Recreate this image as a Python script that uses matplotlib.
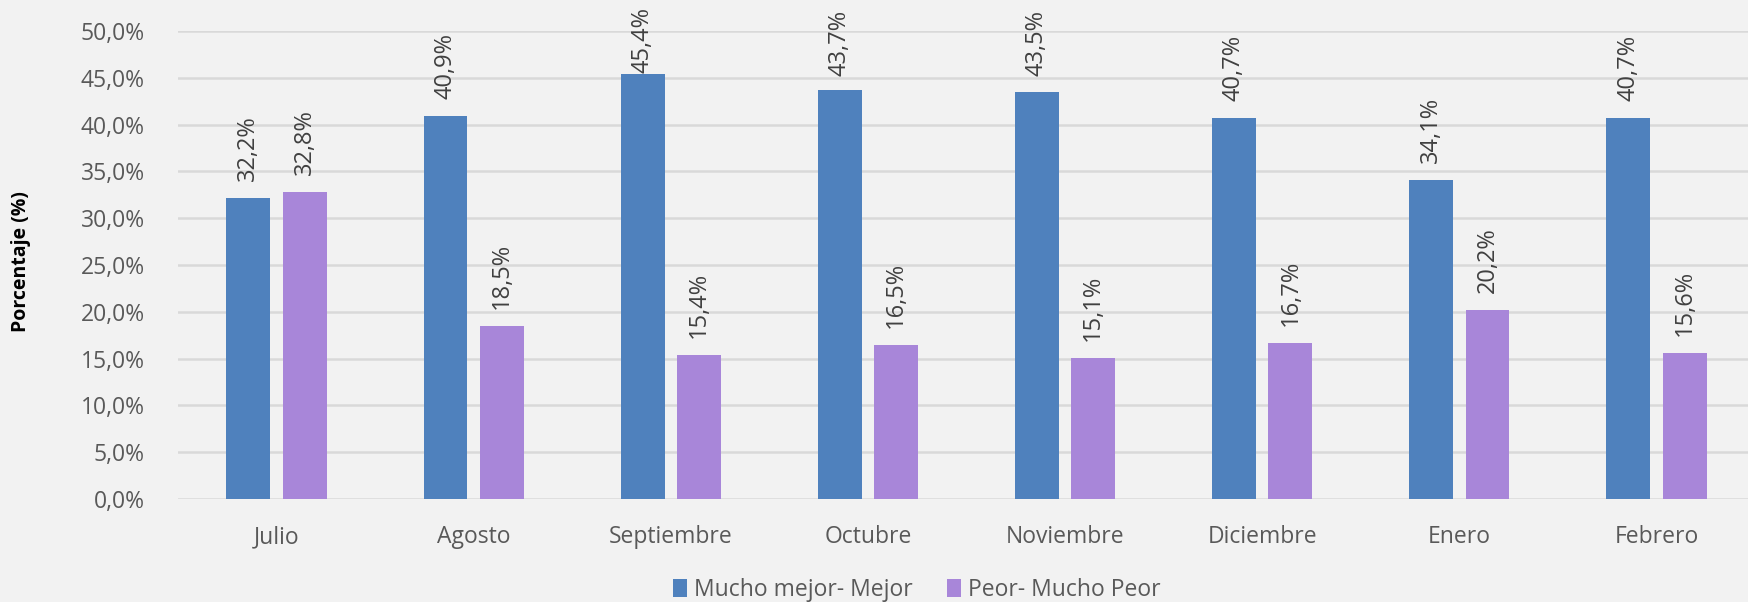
import matplotlib
matplotlib.use("Agg")
import matplotlib.pyplot as plt
import numpy as np

months = ["Julio", "Agosto", "Septiembre", "Octubre", "Noviembre", "Diciembre", "Enero", "Febrero"]
mejor = [32.2, 40.9, 45.4, 43.7, 43.5, 40.7, 34.1, 40.7]
peor = [32.8, 18.5, 15.4, 16.5, 15.1, 16.7, 20.2, 15.6]
series_names = ["Mucho mejor- Mejor", "Peor- Mucho Peor"]
yticks = [0, 5, 10, 15, 20, 25, 30, 35, 40, 45, 50]

plt.rcParams['font.family'] = ['Open Sans', 'DejaVu Sans']

W, H = 1748, 602
DPI = 100
fig = plt.figure(figsize=(W / DPI, H / DPI), dpi=DPI)
fig.patch.set_facecolor('#f2f2f2')
ax = fig.add_axes([178 / W, (H - 499) / H, (1755 - 178) / W, (499 - 31) / H])
ax.set_facecolor('#f2f2f2')

x = np.arange(len(months))
bw = 0.223
off = 0.143
c1, c2 = '#4f81bd', '#a886d9'
b1 = ax.bar(x - off, mejor, bw, color=c1, label=series_names[0], zorder=3)
b2 = ax.bar(x + off, peor, bw, color=c2, label=series_names[1], zorder=3)

ax.set_xlim(-0.5, 7.5)
ax.set_ylim(0, 50)

label_len_px = 64
top_margin_px = 12
gap_px = 17
max_bottom = H - top_margin_px - label_len_px  # display px from bottom
for bars, vals in ((b1, mejor), (b2, peor)):
    for b, v in zip(bars, vals):
        ytop = ax.transData.transform((0, v))[1]
        offs = max(1.5, min(gap_px, max_bottom - ytop))
        ax.annotate(f"{v:.1f}%".replace('.', ','),
                    (b.get_x() + b.get_width() / 2, v),
                    xytext=(0, offs * 72 / DPI), textcoords='offset points',
                    rotation=90, ha='center', va='bottom',
                    fontsize=17, color='#404040', zorder=4, annotation_clip=False)

ax.set_yticks(yticks)
ax.set_yticklabels([f"{t:.1f}%".replace('.', ',') for t in yticks])
ax.set_xticks(x)
ax.set_xticklabels(months)
ax.tick_params(axis='both', length=0, labelsize=16.5, labelcolor='#595959')
ax.tick_params(axis='y', pad=24)
ax.tick_params(axis='x', pad=19)
ax.grid(axis='y', color='#d9d9d9', linewidth=1.8, zorder=0)
for s in ax.spines.values():
    s.set_visible(False)

fig.text(21 / W, 1 - 262 / H, "Porcentaje (%)", rotation=90, ha='center', va='center',
         fontsize=14, fontweight='bold', color='black')

leg = fig.legend(handles=[b1, b2], loc='center', bbox_to_anchor=(917 / W, 1 - 590 / H),
                 ncol=2, frameon=False, fontsize=16.5, handlelength=0.6, handleheight=0.8,
                 handletextpad=0.3, columnspacing=1.5)
for t in leg.get_texts():
    t.set_color('#595959')

fig.savefig("out.png", dpi=DPI, facecolor=fig.get_facecolor())
